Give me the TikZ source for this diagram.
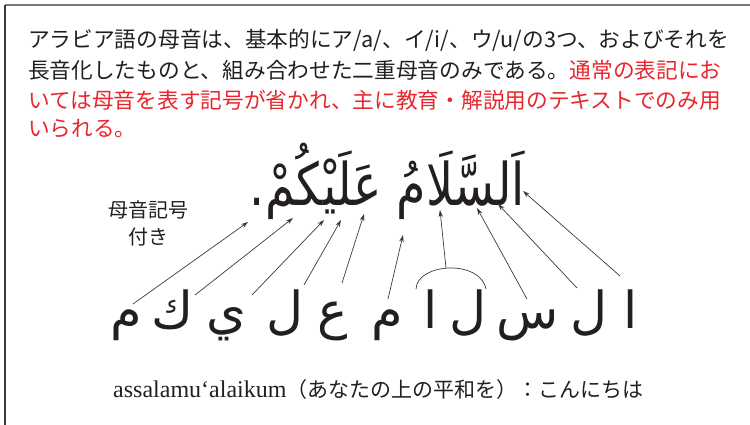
\documentclass[tikz,border=0pt]{standalone}
\usepackage{fontspec}
\setmainfont{Liberation Serif}
\newfontfamily\jpfont{Noto Sans CJK JP}
\newfontfamily\arabicfont[Script=Arabic]{DejaVu Sans}
\TeXXeTstate=1
\usetikzlibrary{arrows.meta}
\definecolor{txt}{HTML}{231F20}
\definecolor{redtxt}{HTML}{E8262D}
\definecolor{ln}{HTML}{3A3A3A}
\definecolor{frametop}{HTML}{7A7A7A}
\begin{document}
\begin{tikzpicture}[x=1pt,y=-1pt,
  jpline/.style={anchor=west,inner sep=0pt,font=\jpfont\fontsize{21.7}{26}\selectfont,text=txt},
  arlet/.style={anchor=base,inner sep=0pt,font=\arabicfont\fontsize{51}{56}\selectfont,text=txt},
  ptr/.style={draw=ln,line width=0.7pt,-{Stealth[length=7pt,width=4.5pt]}},
  plain/.style={draw=ln,line width=0.7pt}]
\useasboundingbox (0,0) rectangle (750,425);
\draw[line width=1.6pt,draw=frametop] (5,5) -- (750,5);
\draw[line width=1.6pt,draw=ln] (5,5) -- (5,425);

\node[jpline] (l1) at (28,40) {アラビア語の母音は、基本的にア/a/、イ/i/、ウ/u/の3つ、およびそれを};
\node[jpline] (l2) at (28,70) {長音化したものと、組み合わせた二重母音のみである。\textcolor{redtxt}{通常の表記にお}};
\node[jpline,text=redtxt] (l3) at (28,100) {いては母音を表す記号が省かれ、主に教育・解説用のテキストでのみ用};
\node[jpline,text=redtxt] (l4) at (28,129) {いられる。};

\node[inner sep=0pt,anchor=base east,text=txt,font=\arabicfont\fontsize{56}{62}\selectfont] (head) at (525,205) {\scalebox{0.85}[1.05]{\beginR اَلسَّلَامُ عَلَيْكُمْ.\endR}};

\node[align=center,inner sep=0pt,text=txt,font=\jpfont\fontsize{20}{27}\selectfont] (lab) at (148,223) {母音記号\\付き};

% isolated letters
\node[arlet] (b1) at (126,328) {م};
\node[arlet] (b2) at (173,328) {ك};
\node[arlet] (b3) at (226,328) {ي};
\node[arlet] (b4) at (285,328) {ل};
\node[arlet] (b5) at (333,328) {ع};
\node[arlet] (b6) at (387,328) {م};
\node[arlet] (b7) at (431,328) {ا};
\node[arlet] (b8) at (468,328) {ل};
\node[arlet] (b9) at (528,328) {س};
\node[arlet] (b10) at (589,328) {ل};
\node[arlet] (b11) at (631,328) {ا};

% arrow tips on the heading
\coordinate (t1) at (248,222);
\coordinate (t2) at (293,218);
\coordinate (t3) at (324,220);
\coordinate (t4) at (341,220);
\coordinate (t5) at (364,214);
\coordinate (t6) at (403,235);
\coordinate (t7) at (440,210);
\coordinate (t8) at (477,208);
\coordinate (t9) at (498,204);
\coordinate (t10) at (523,191);
% lower ends
\coordinate (s1) at (133,304);
\coordinate (s2) at (195,295);
\coordinate (s3) at (252,295);
\coordinate (s4) at (304,285);
\coordinate (s5) at (342,283);
\coordinate (s6) at (388,299);
\coordinate (arcL) at (416,289);
\coordinate (arcR) at (486,289);
\coordinate (s7) at (446,268);
\coordinate (s8) at (527,299);
\coordinate (s9) at (577,288);
\coordinate (s10) at (620,276);

\draw[plain] (arcL) .. controls (417,263) and (480,259) .. (arcR);
\foreach \i in {1,...,10}{\draw[ptr] (s\i) -- (t\i);}

\node[anchor=west,inner sep=0pt,text=txt] (bottom) at (113,390)
  {\fontsize{24}{28}\selectfont assalamu‘alaikum{\jpfont\fontsize{21}{26}\selectfont （あなたの上の平和を）：こんにちは}};
\end{tikzpicture}
\end{document}
